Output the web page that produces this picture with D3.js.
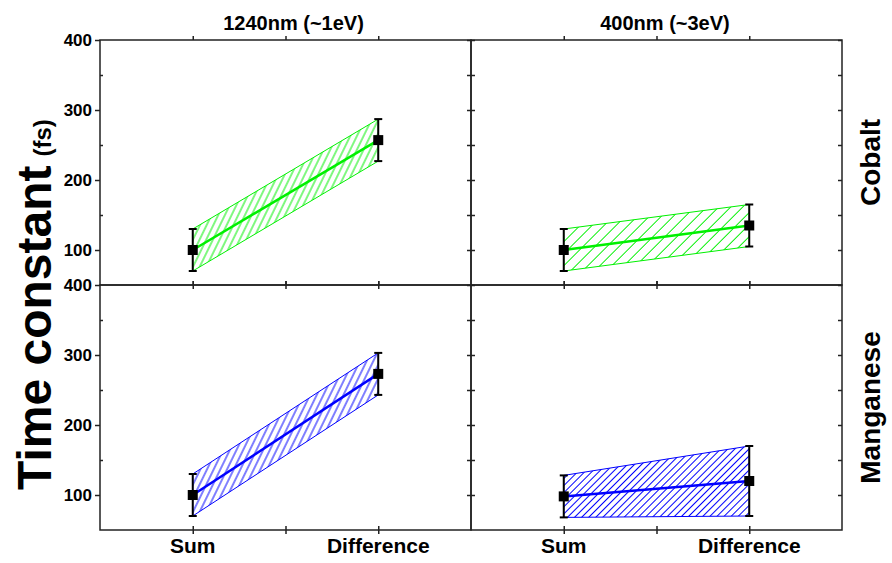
<!DOCTYPE html>
<html>
<head>
<meta charset="utf-8">
<script src="https://cdn.jsdelivr.net/npm/d3@7"></script>
<style>
  body { margin: 0; background: #fff; }
  svg { font-family: "Liberation Sans", Arial, sans-serif; font-weight: bold; }
  .tick text { font-size: 17px; font-weight: bold; fill: #000; }
  .tick line { stroke: #222; stroke-width: 1.5; }
</style>
</head>
<body>
<svg id="chart"></svg>
<script>
// column titles, row labels, x categories
const wavelengths = ["1240nm (~1eV)", "400nm (~3eV)"];
const elements = ["Cobalt", "Manganese"];
const categories = ["Sum", "Difference"];
const yTicks = [100, 200, 300, 400];
const yMinorTicks = [150, 250, 350];

// time constants (fs) and error bars, [Sum, Difference]
const coValues1240 = [100, 257];
const coErrors1240 = [30, 30];
const coValues400 = [100, 135];
const coErrors400 = [30, 30];
const mnValues1240 = [100, 273];
const mnErrors1240 = [30, 30];
const mnValues400 = [98, 120];
const mnErrors400 = [30, 50];

const panels = [
  { row: 0, col: 0, values: coValues1240, errors: coErrors1240 },
  { row: 0, col: 1, values: coValues400, errors: coErrors400 },
  { row: 1, col: 0, values: mnValues1240, errors: mnErrors1240 },
  { row: 1, col: 1, values: mnValues400, errors: mnErrors400 }
];

const config = {
  width: 892,
  height: 563,
  colX: [100, 471, 843],
  rowY: [40, 285, 530],
  rowColor: ["#00f000", "#0000ff"],
  // hatch angle (deg from vertical) and spacing for each panel
  hatch: [[26, 6], [45, 8.5], [26, 6], [45, 5]]
};

const svg = d3.select('#chart')
    .attr('width', config.width)
    .attr('height', config.height);

const defs = svg.append('defs');

const pw = config.colX[1] - config.colX[0];
const ph = config.rowY[1] - config.rowY[0];

const xScale = d3.scaleLinear().domain([0.5, 2.5]).range([0, pw]);
const yScale = d3.scaleLinear().domain([50, 400]).range([ph, 0]);

panels.forEach((p, i) => {
  const color = config.rowColor[p.row];
  const [angle, gap] = config.hatch[i];
  const patId = `hatch-${i}`;
  const pat = defs.append('pattern')
      .attr('id', patId)
      .attr('patternUnits', 'userSpaceOnUse')
      .attr('width', gap)
      .attr('height', gap)
      .attr('patternTransform', `rotate(${angle})`);
  pat.append('line')
      .attr('x1', gap / 2).attr('y1', 0)
      .attr('x2', gap / 2).attr('y2', gap)
      .attr('stroke', color)
      .attr('stroke-width', 1);

  const g = svg.append('g')
      .attr('transform', `translate(${config.colX[p.col]},${config.rowY[p.row]})`);

  const pts = p.values.map((v, k) => ({ x: k + 1, v: v, lo: v - p.errors[k], hi: v + p.errors[k] }));

  // hatched band between lower and upper error limits
  const area = d3.area()
      .x(d => xScale(d.x))
      .y0(d => yScale(d.lo))
      .y1(d => yScale(d.hi));
  g.append('path')
      .datum(pts)
      .attr('d', area)
      .attr('fill', `url(#${patId})`)
      .attr('stroke', color)
      .attr('stroke-width', 1);

  // central line
  g.append('path')
      .datum(pts)
      .attr('d', d3.line().x(d => xScale(d.x)).y(d => yScale(d.v)))
      .attr('fill', 'none')
      .attr('stroke', color)
      .attr('stroke-width', 2.5);

  // error bars
  const eb = g.selectAll('.err').data(pts).join('g').attr('class', 'err');
  eb.append('line')
      .attr('x1', d => xScale(d.x)).attr('x2', d => xScale(d.x))
      .attr('y1', d => yScale(d.lo)).attr('y2', d => yScale(d.hi))
      .attr('stroke', '#000').attr('stroke-width', 2);
  ['lo', 'hi'].forEach(k => {
    eb.append('line')
        .attr('x1', d => xScale(d.x) - 4).attr('x2', d => xScale(d.x) + 4)
        .attr('y1', d => yScale(d[k])).attr('y2', d => yScale(d[k]))
        .attr('stroke', '#000').attr('stroke-width', 2);
  });
  eb.append('rect')
      .attr('x', d => xScale(d.x) - 5).attr('y', d => yScale(d.v) - 5)
      .attr('width', 10).attr('height', 10)
      .attr('fill', '#000');

  // axes
  const xTickVals = [1, 1.5, 2];
  const noLabel = () => '';
  g.append('g')
      .call(d3.axisBottom(xScale).tickValues(xTickVals).tickSize(-4).tickFormat(noLabel))
      .call(a => a.select('.domain').remove());
  g.append('g')
      .attr('transform', `translate(0,${ph})`)
      .call(d3.axisBottom(xScale).tickValues(xTickVals).tickSize(4).tickFormat(noLabel))
      .call(a => a.select('.domain').remove());
  g.append('g')
      .attr('transform', `translate(0,${ph})`)
      .call(d3.axisTop(xScale).tickValues(xTickVals).tickSize(4).tickFormat(noLabel))
      .call(a => a.select('.domain').remove());

  if (p.col === 0) {
    g.append('g')
        .call(d3.axisLeft(yScale).tickValues(yTicks).tickSize(5).tickPadding(3))
        .call(a => a.select('.domain').remove());
    g.append('g')
        .call(d3.axisLeft(yScale).tickValues(yMinorTicks).tickSize(-3).tickFormat(noLabel))
        .call(a => a.select('.domain').remove());
    g.append('g')
        .attr('transform', `translate(${pw},0)`)
        .call(d3.axisLeft(yScale).tickValues(yTicks.concat(yMinorTicks)).tickSize(4).tickFormat(noLabel))
        .call(a => a.select('.domain').remove());
  } else {
    g.append('g')
        .call(d3.axisRight(yScale).tickValues(yTicks.concat(yMinorTicks)).tickSize(4).tickFormat(noLabel))
        .call(a => a.select('.domain').remove());
    g.append('g')
        .attr('transform', `translate(${pw},0)`)
        .call(d3.axisLeft(yScale).tickValues(yTicks.concat(yMinorTicks)).tickSize(4).tickFormat(noLabel))
        .call(a => a.select('.domain').remove());
  }

  g.append('rect')
      .attr('width', pw).attr('height', ph)
      .attr('fill', 'none')
      .attr('stroke', '#222')
      .attr('stroke-width', 1.5);

  // category labels under the lower row
  if (p.row === 1) {
    g.selectAll('.cat').data(categories).join('text')
        .attr('class', 'cat')
        .attr('x', (d, k) => xScale(k + 1))
        .attr('y', ph + 23)
        .attr('text-anchor', 'middle')
        .style('font-size', '21px')
        .text(d => d);
  }
});

// column titles
svg.selectAll('.col-title').data(wavelengths).join('text')
    .attr('class', 'col-title')
    .attr('x', (d, i) => (config.colX[i] + config.colX[i + 1]) / 2 + 8)
    .attr('y', 30)
    .attr('text-anchor', 'middle')
    .style('font-size', '20px')
    .text(d => d);

// row labels on the right
svg.selectAll('.row-title').data(elements).join('text')
    .attr('class', 'row-title')
    .attr('transform', (d, i) => `translate(880,${(config.rowY[i] + config.rowY[i + 1]) / 2}) rotate(-90)`)
    .attr('text-anchor', 'middle')
    .style('font-size', '28px')
    .text(d => d);

// y axis title
const yTitle = svg.append('text')
    .attr('transform', 'translate(51,490) rotate(-90)')
    .attr('text-anchor', 'start');
yTitle.append('tspan').style('font-size', '48px').text('Time constant');
yTitle.append('tspan').style('font-size', '24px').attr('dx', 9).text('(fs)');
</script>
</body>
</html>
